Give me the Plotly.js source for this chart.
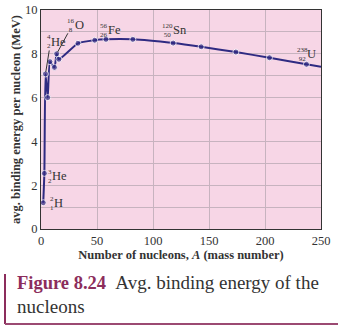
<!DOCTYPE html>
<html><head><meta charset="utf-8">
<script src="https://cdn.plot.ly/plotly-3.0.1.min.js"></script>
<style>html,body{margin:0;padding:0;background:#fff;}#chart{width:347px;height:332px;}</style>
</head><body><div id="chart"></div>
<script>
// Data
const massNumber = [2, 3, 4, 6, 8, 12, 14, 16, 33, 48, 58, 82, 118, 143, 174, 204, 237, 250];
const bindingEnergy = [1.2, 2.54, 7.08, 6.0, 7.64, 7.38, 8.0, 7.75, 8.48, 8.62, 8.66, 8.66, 8.49, 8.32, 8.08, 7.82, 7.52, 7.41];
const showMarker = [1,1,1,1,1,1,1,1,1,1,1,1,1,1,1,1,1,0];
const xTicks = [0, 50, 100, 150, 200, 250];
const yTicks = [0, 2, 4, 6, 8, 10];
// nuclide labels: [mass number, atomic number, symbol]
const nuclides = [
  ["4","2","He"], ["16","8","O"], ["56","26","Fe"], ["120","50","Sn"],
  ["238","92","U"], ["3","2","He"], ["2","1","H"]
];

const W = 347, H = 332;
const L = 41, R = 26, T = 10, B = 103;
const pw = W - L - R, ph = H - T - B;
const px = v => (v - L) / pw;
const py = v => (H - B - v) / ph;

const serif = "Liberation Serif, Times New Roman, serif";
const lineCol = "#2f2b82";

// label layout positions in pixels: [element left x, element center y, number right x]
const labelPos = [
  [50.5, 41.5, 51], [74.5, 25, 75], [107.5, 30.5, 108], [172.5, 30.5, 173],
  [307, 54.5, 307.5], [51.5, 176, 52], [53.5, 203, 54]
];

const annotations = [];
nuclides.forEach((n, i) => {
  const [ex, ey, nx] = labelPos[i];
  annotations.push({xref:'paper', yref:'paper', x:px(ex), y:py(ey), xanchor:'left', yanchor:'middle',
    text:n[2], showarrow:false, borderpad:0, borderwidth:0, font:{family:serif, size:12.5, color:'#333'}});
  annotations.push({xref:'paper', yref:'paper', x:px(nx), y:py(ey), xanchor:'right', yanchor:'middle', align:'center',
    text:n[0] + "<br>" + n[1], showarrow:false, borderpad:0, borderwidth:0, font:{family:serif, size:7, color:'#333'}});
});
// leader lines to He-4 and O-16 points
annotations.push({x:massNumber[2], y:bindingEnergy[2], xref:'x', yref:'y', text:'', showarrow:true,
  arrowhead:0, arrowwidth:1, arrowcolor:'#333', ax:4, ay:-25, standoff:2});
annotations.push({x:massNumber[6], y:bindingEnergy[6], xref:'x', yref:'y', text:'', showarrow:true,
  arrowhead:0, arrowwidth:1, arrowcolor:'#333', ax:12, ay:-22, standoff:2});
// caption
annotations.push({xref:'paper', yref:'paper', x:px(16), y:py(294), xanchor:'left', yanchor:'middle', align:'left',
  showarrow:false, borderpad:0, font:{family:serif, size:18.5, color:'#333'},
  text:"<b><span style='color:#8c2d5c'>Figure 8.24</span></b>&nbsp;&nbsp;<span style='font-size:19px'>Avg. binding energy of the</span><br><span style='font-size:19px'>nucleons</span>"});

const trace = {
  x: massNumber, y: bindingEnergy, type:'scatter', mode:'lines+markers',
  line:{color:lineCol, width:2, shape:'spline', smoothing:0.5},
  marker:{color:lineCol, size:showMarker.map(s => s ? 6 : 0)},
  hoverinfo:'skip'
};

const layout = {
  width:W, height:H, margin:{l:L, r:R, t:T, b:B, pad:0, autoexpand:false},
  paper_bgcolor:'#fff', plot_bgcolor:'#f7d6e6', showlegend:false,
  font:{family:serif, color:'#333'},
  xaxis:{range:[0,250], tickvals:xTicks, ticktext:xTicks.map(String), showgrid:true, gridcolor:'#c7b3bf', gridwidth:1,
    showline:true, linecolor:'#333', linewidth:1, mirror:true, zeroline:false, ticks:'', automargin:false,
    tickfont:{family:serif, size:12.5, color:'#333'},
    title:{text:"<b>Number of nucleons, <i>A</i> (mass number)</b>", font:{family:serif, size:12.5, color:'#333'}, standoff:0}},
  yaxis:{range:[0,10], tickvals:yTicks, ticktext:yTicks.map(String), showgrid:true, gridcolor:'#c7b3bf', gridwidth:1,
    minor:{dtick:1, showgrid:true, gridcolor:'#c7b3bf', gridwidth:1, ticks:''},
    showline:true, linecolor:'#333', linewidth:1, mirror:true, zeroline:false, ticks:'', automargin:false,
    tickfont:{family:serif, size:12.5, color:'#333'},
    title:{text:"<b>avg. binding energy per nucleon (MeV)</b>", font:{family:serif, size:12.5, color:'#333'}, standoff:1}},
  annotations: annotations,
  shapes:[
    {type:'line', xref:'paper', yref:'paper', x0:px(5), x1:px(5), y0:py(274), y1:py(324), line:{color:'#8c2d5c', width:2}},
    {type:'line', xref:'paper', yref:'paper', x0:px(5), x1:px(338), y0:py(324), y1:py(324), line:{color:'#9b4a72', width:2}}
  ]
};
Plotly.newPlot('chart', [trace], layout, {displayModeBar:false, staticPlot:true});
</script></body></html>
